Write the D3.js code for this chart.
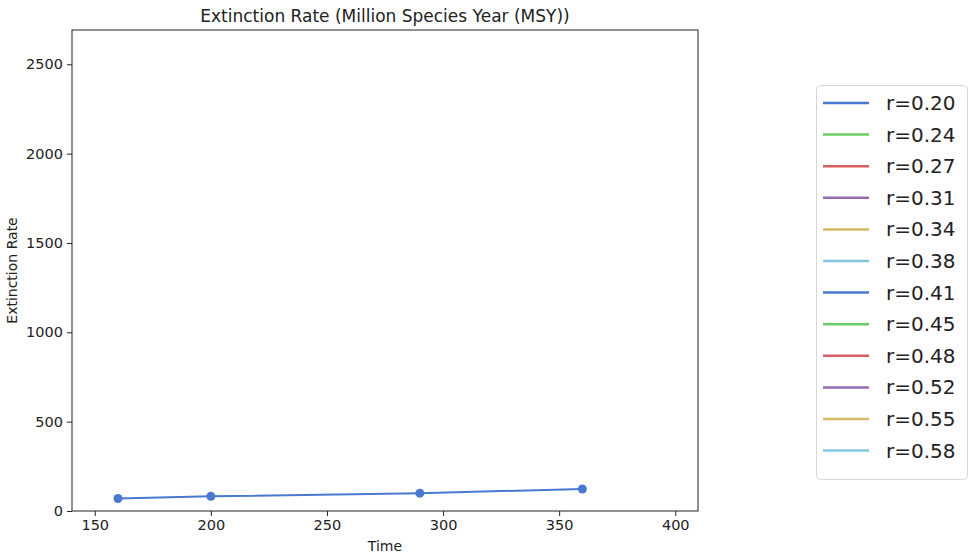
<!DOCTYPE html>
<html>
<head>
<meta charset="utf-8">
<script src="https://cdn.jsdelivr.net/npm/d3@7"></script>
<style>
  body { margin: 0; background: #fff; }
  text { font-family: "DejaVu Sans", sans-serif; fill: #222; }
</style>
</head>
<body>
<script>
// series labels and colours (seaborn muted colour codes)
var rLabels = ["r=0.20", "r=0.24", "r=0.27", "r=0.31", "r=0.34", "r=0.38",
               "r=0.41", "r=0.45", "r=0.48", "r=0.52", "r=0.55", "r=0.58"];
var rColors = ["#4878d0", "#6acc64", "#d65f5f", "#956cb4", "#d5bb67", "#82c6e2",
               "#4878d0", "#6acc64", "#d65f5f", "#956cb4", "#d5bb67", "#82c6e2"];

// only the first series has points
var timeValues = [160, 200, 290, 360];
var rateValues = [70, 82, 100, 123];

var xTicks = [150, 200, 250, 300, 350, 400];
var yTicks = [0, 500, 1000, 1500, 2000, 2500];

window.onload = drawChart();

function drawChart() {
  var width = 972, height = 555;
  var left = 72, right = 698, top = 30, bottom = 511;

  var svg = d3.select("body").append("svg")
      .attr("width", width)
      .attr("height", height);

  var x = d3.scaleLinear().domain([140.2, 409.8]).range([left, right]);
  var y = d3.scaleLinear().domain([0, 2692]).range([bottom, top]);

  //frame
  svg.append("rect")
      .attr("x", left).attr("y", top)
      .attr("width", right - left).attr("height", bottom - top)
      .attr("fill", "none").attr("stroke", "#222").attr("stroke-width", 1);

  //axes
  var xAxis = svg.append("g")
      .attr("transform", "translate(0," + bottom + ")")
      .call(d3.axisBottom(x).tickValues(xTicks).tickFormat(d3.format("d")).tickSize(5).tickPadding(4));
  var yAxis = svg.append("g")
      .attr("transform", "translate(" + left + ",0)")
      .call(d3.axisLeft(y).tickValues(yTicks).tickFormat(d3.format("d")).tickSize(5).tickPadding(4));
  [xAxis, yAxis].forEach(function(a) {
    a.select(".domain").remove();
    a.selectAll("line").attr("stroke", "#222");
    a.selectAll("text").style("font-size", "14.5px")
        .style("font-family", "'DejaVu Sans', sans-serif").attr("fill", "#222");
  });

  //titles
  svg.append("text")
      .attr("x", (left + right) / 2).attr("y", 22)
      .attr("text-anchor", "middle")
      .style("font-size", "17px")
      .text("Extinction Rate (Million Species Year (MSY))");
  svg.append("text")
      .attr("x", (left + right) / 2).attr("y", 551)
      .attr("text-anchor", "middle")
      .style("font-size", "14px")
      .text("Time");
  svg.append("text")
      .attr("transform", "translate(17," + (top + bottom) / 2 + ") rotate(-90)")
      .attr("text-anchor", "middle")
      .style("font-size", "14px")
      .text("Extinction Rate");

  //data line
  var pts = timeValues.map(function(t, i) { return [t, rateValues[i]]; });
  var line = d3.line()
      .x(function(d) { return x(d[0]); })
      .y(function(d) { return y(d[1]); });
  svg.append("path")
      .datum(pts)
      .attr("d", line)
      .attr("fill", "none")
      .attr("stroke", rColors[0])
      .attr("stroke-width", 2);
  svg.selectAll(".dot")
      .data(pts)
      .enter()
      .append("circle")
      .attr("class", "dot")
      .attr("cx", function(d) { return x(d[0]); })
      .attr("cy", function(d) { return y(d[1]); })
      .attr("r", 4.5)
      .attr("fill", rColors[0]);

  //legend
  var legend = svg.append("g");
  legend.append("rect")
      .attr("x", 816.5).attr("y", 85.5)
      .attr("width", 151).attr("height", 394)
      .attr("rx", 4)
      .attr("fill", "#fff").attr("stroke", "#d6d6d6");
  var items = legend.selectAll(".item")
      .data(rLabels)
      .enter()
      .append("g")
      .attr("class", "item")
      .attr("transform", function(d, i) { return "translate(0," + (103 + i * 31.6) + ")"; });
  items.append("line")
      .attr("x1", 823).attr("x2", 869)
      .attr("stroke", function(d, i) { return rColors[i]; })
      .attr("stroke-width", 2.5);
  items.append("text")
      .attr("x", 886).attr("y", 7)
      .style("font-size", "20px")
      .text(function(d) { return d; });
}
</script>
</body>
</html>
